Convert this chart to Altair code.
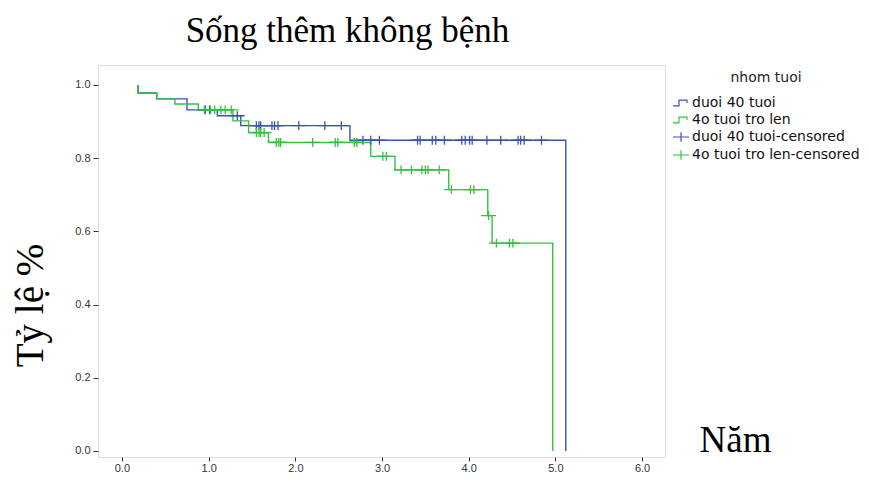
import altair as alt
import pandas as pd

# Kaplan-Meier curves: event times (years) and survival after each step
young_t = [0.185, 0.185, 0.40, 0.75, 1.10, 1.37, 2.63, 5.12]
young_s = [1.0, 0.978, 0.962, 0.932, 0.916, 0.889, 0.849, 0.0]
old_t = [0.185, 0.185, 0.40, 0.61, 0.88, 1.28, 1.46, 1.69, 2.87, 3.15, 3.77, 4.22, 4.27, 4.97]
old_s = [1.0, 0.978, 0.962, 0.948, 0.932, 0.902, 0.870, 0.843, 0.805, 0.768, 0.714, 0.643, 0.568, 0.0]

# Censoring times (years)
young_cens = [0.96, 1.01, 1.33, 1.55, 1.58, 1.60, 1.73, 1.76, 1.80, 2.04, 2.34, 2.53,
              2.78, 2.87, 2.97, 3.41, 3.44, 3.58, 3.62, 3.72, 3.92, 3.96, 4.01, 4.04,
              4.21, 4.37, 4.57, 4.60, 4.64, 4.84]
old_cens = [0.95, 1.02, 1.07, 1.14, 1.19, 1.26, 1.55, 1.58, 1.60, 1.64, 1.78, 1.81,
            1.83, 2.20, 2.46, 2.49, 2.68, 2.71, 3.01, 3.05, 3.22, 3.34, 3.46, 3.50,
            3.53, 3.66, 3.80, 4.02, 4.06, 4.23, 4.32, 4.47, 4.51]

groups = ["duoi 40 tuoi", "4o tuoi tro len",
          "duoi 40 tuoi-censored", "4o tuoi tro len-censored"]
colors = ["#3a52b4", "#33c23d", "#3a52b4", "#33c23d"]
step_icon = "M-1,0.35H-0.25V-0.35H0.75V0"
cross_icon = "M-1,0H1M0,-0.6V0.6"
x_ticks = [0, 1, 2, 3, 4, 5, 6]
y_ticks = [0.0, 0.2, 0.4, 0.6, 0.8, 1.0]


def surv_at(times, surv, t):
    s = surv[0]
    for ti, si in zip(times, surv):
        if ti <= t:
            s = si
    return s


curve_rows = []
for name, ts, ss in [(groups[0], young_t, young_s), (groups[1], old_t, old_s)]:
    for i, (t, s) in enumerate(zip(ts, ss)):
        curve_rows.append({"t": t, "s": s, "grp": name, "idx": i})
curves = pd.DataFrame(curve_rows)

cens_rows = []
for name, cts, ts, ss in [(groups[2], young_cens, young_t, young_s),
                          (groups[3], old_cens, old_t, old_s)]:
    for t in cts:
        cens_rows.append({"t": t, "s": surv_at(ts, ss, t), "grp": name})
cens = pd.DataFrame(cens_rows)

x_scale = alt.Scale(domain=[-0.277, 6.265], nice=False, zero=False)
y_scale = alt.Scale(domain=[-0.0164, 1.0546], nice=False, zero=False)
color_scale = alt.Scale(domain=groups, range=colors)
shape_scale = alt.Scale(domain=groups, range=[step_icon, step_icon, cross_icon, cross_icon])

x_axis = alt.Axis(values=x_ticks, format=".1f", grid=False, domain=False, tickSize=4,
                  offset=0, labelFont="Liberation Sans", labelFontSize=11,
                  labelColor="#333333", tickColor="#333333", labelPadding=1,
                  title="Năm", titleFont="Liberation Serif", titleFontSize=37,
                  titleFontWeight="normal", titleColor="black", titleX=637, titleY=-17,
                  titleAlign="center", titleBaseline="middle")
y_axis = alt.Axis(values=y_ticks, format=".1f", grid=False, domain=False, tickSize=5,
                  labelFont="Liberation Sans", labelFontSize=11, labelColor="#333333",
                  tickColor="#333333", labelPadding=3,
                  title="Tỷ lệ %", titleFont="Liberation Serif", titleFontSize=39,
                  titleFontWeight="normal", titleColor="black", titleAngle=270,
                  titleX=-68, titleY=240, titleAlign="center", titleBaseline="middle")

legend = alt.Legend(title="nhom tuoi", orient="none", legendX=574, legendY=6,
                    titleFont="DejaVu Sans", titleFontSize=14, titleFontWeight="normal",
                    titleColor="#222222", titleAnchor="middle", titlePadding=9,
                    labelFont="DejaVu Sans", labelFontSize=14, labelColor="#111111",
                    labelLimit=260, symbolSize=256, symbolStrokeWidth=1.2,
                    symbolFillColor="transparent", rowPadding=1, labelOffset=2)

lines = alt.Chart(curves).mark_line(interpolate="step-after", strokeWidth=1.4).encode(
    x=alt.X("t:Q", scale=x_scale, axis=x_axis),
    y=alt.Y("s:Q", scale=y_scale, axis=y_axis),
    color=alt.Color("grp:N", scale=color_scale, legend=legend),
    order="idx:Q",
)

marks = alt.Chart(cens).mark_point(filled=False, strokeWidth=1.3, size=220, opacity=1).encode(
    x=alt.X("t:Q", scale=x_scale),
    y=alt.Y("s:Q", scale=y_scale),
    color=alt.Color("grp:N", scale=color_scale, legend=legend),
    shape=alt.Shape("grp:N", scale=shape_scale, legend=legend),
)

chart = alt.layer(lines, marks).properties(
    width=567,
    height=392,
    autosize=alt.AutoSizeParams(type="none"),
    padding={"left": 98, "top": 65, "right": 204, "bottom": 34},
    title=alt.TitleParams("Sống thêm không bệnh", font="Liberation Serif", fontSize=35,
                          fontWeight="normal", color="black", anchor="middle", dx=-34,
                          dy=36, offset=24, baseline="alphabetic", frame="group"),
).configure_view(
    fill="#f0f0f0", stroke="#444444", strokeWidth=1
).configure(background="white")

chart.save("out.html", embed_options={"renderer": "svg", "actions": False})
